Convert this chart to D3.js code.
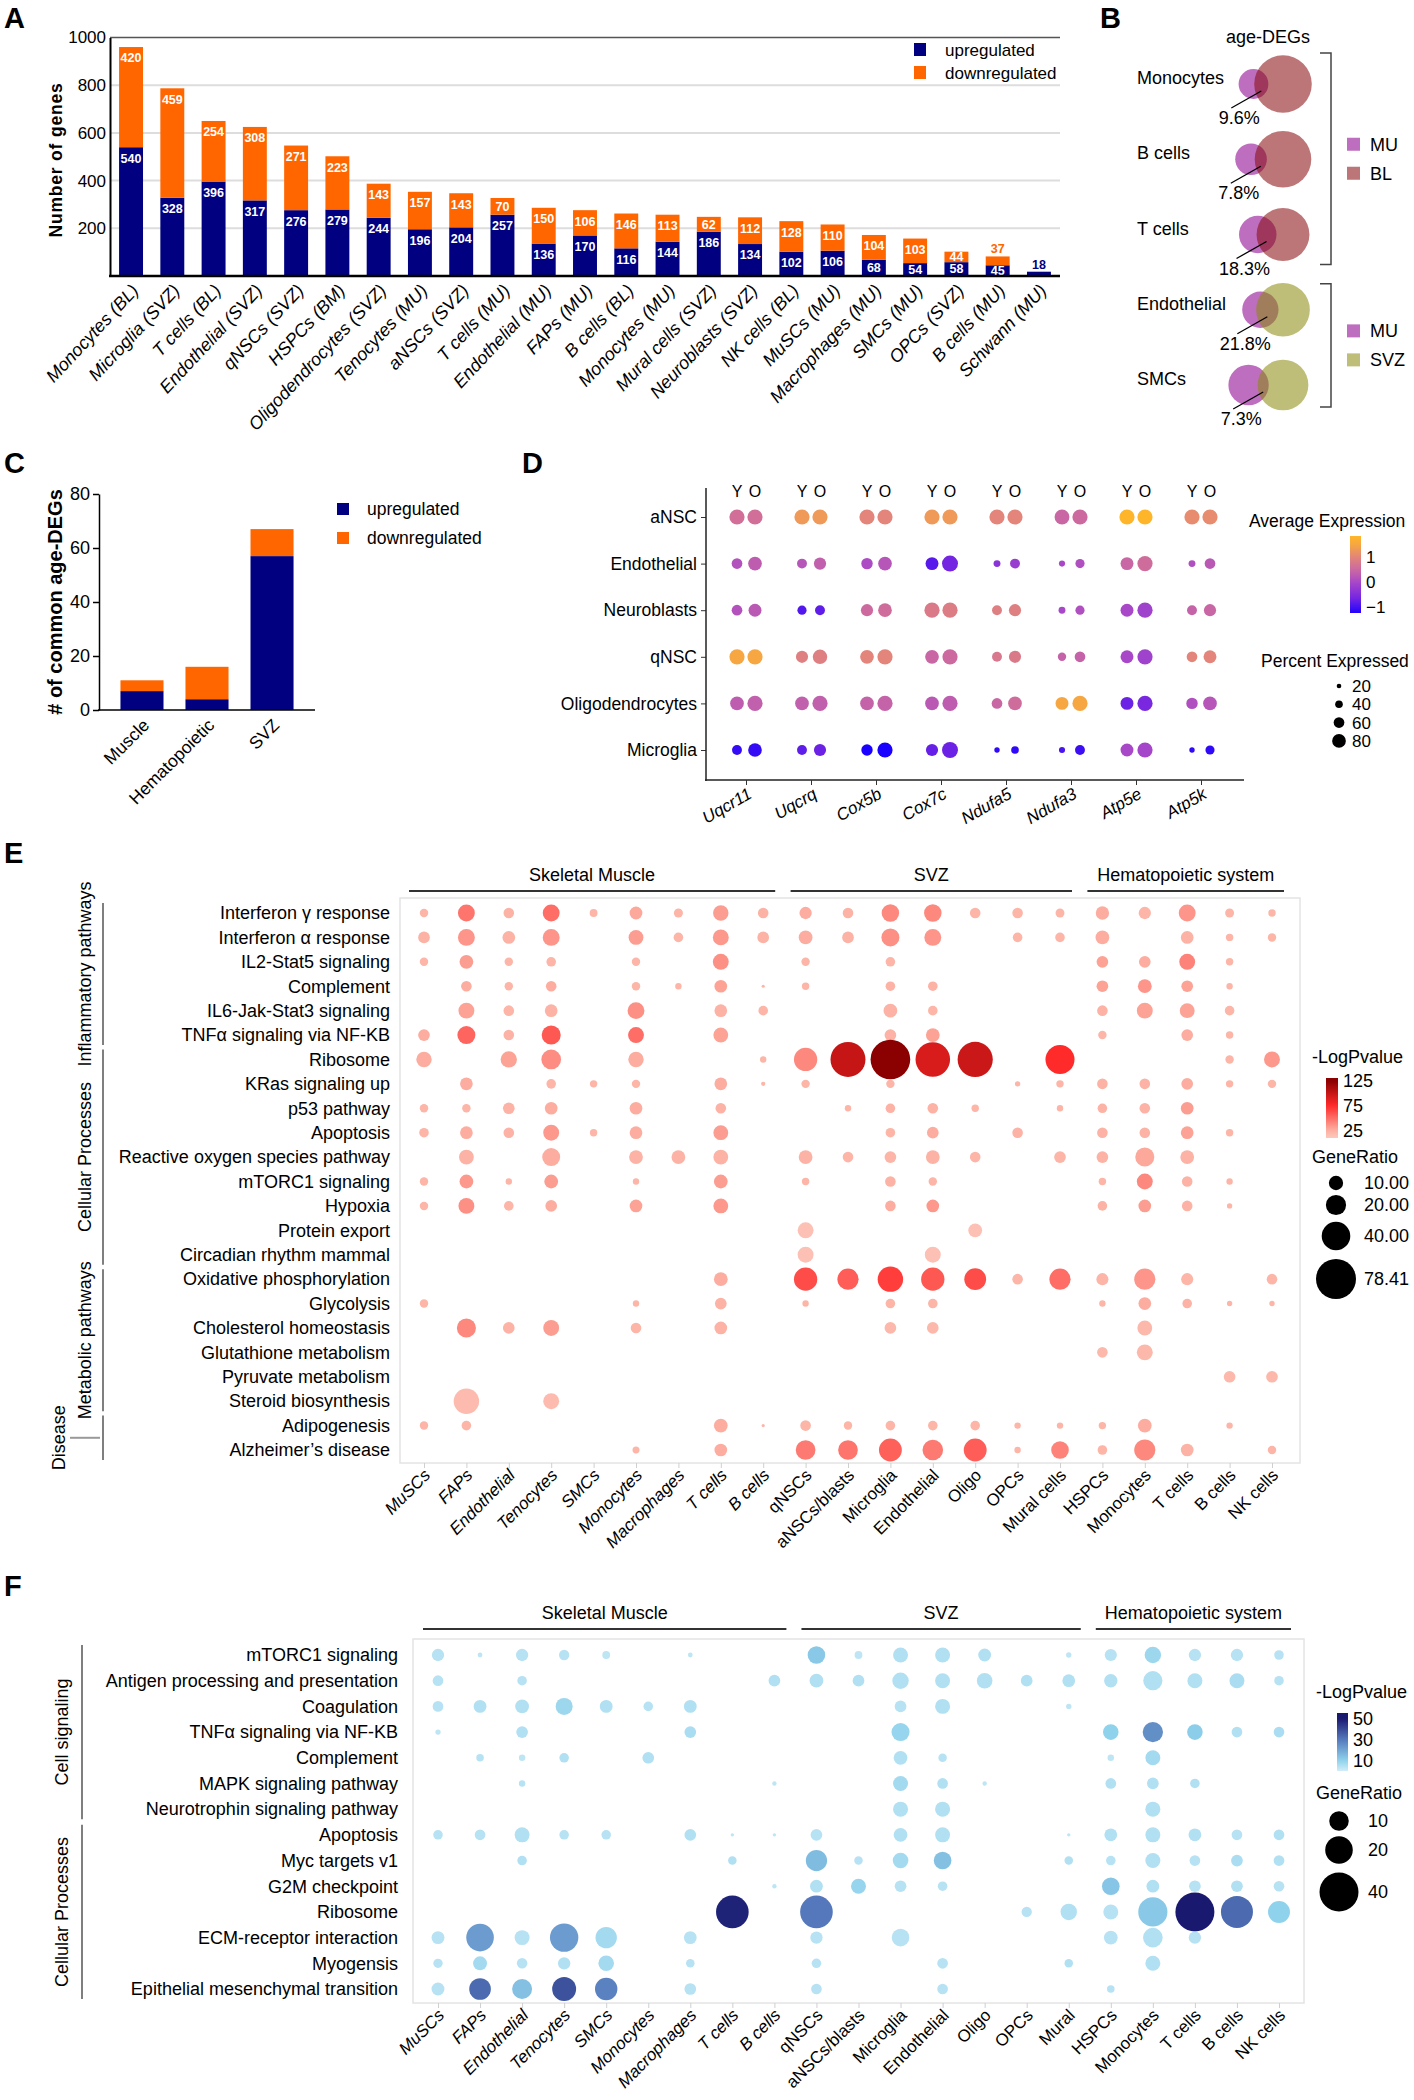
<!DOCTYPE html>
<html><head><meta charset="utf-8">
<script src="https://cdn.jsdelivr.net/npm/d3@7"></script>
<style>body{margin:0;background:#fff}svg{display:block}</style>
</head><body>
<svg id="fig" width="1414" height="2100"></svg>
<script>
// ================= DATA =================
// Panel A
const aCategories = ["Monocytes (BL)","Microglia (SVZ)","T cells (BL)","Endothelial (SVZ)","qNSCs (SVZ)","HSPCs (BM)","Oligodendrocytes (SVZ)","Tenocytes (MU)","aNSCs (SVZ)","T cells (MU)","Endothelial (MU)","FAPs (MU)","B cells (BL)","Monocytes (MU)","Mural cells (SVZ)","Neuroblasts (SVZ)","NK cells (BL)","MuSCs (MU)","Macrophages (MU)","SMCs (MU)","OPCs (SVZ)","B cells (MU)","Schwann (MU)"];
const aUp   = [540,328,396,317,276,279,244,196,204,257,136,170,116,144,186,134,102,106,68,54,58,45,18];
const aDown = [420,459,254,308,271,223,143,157,143,70,150,106,146,113,62,112,128,110,104,103,44,37,0];
const aTicks = [200,400,600,800,1000];
const aSeries = ["upregulated","downregulated"];

// Panel B
const bCells = ["Monocytes","B cells","T cells","Endothelial","SMCs"];
const bMU = [257,82,327,286,157];
const bOther = [960,262,650,625,248];
const bOtherTissue = ["BL","BL","BL","SVZ","SVZ"];
const bPercent = [9.6,7.8,18.3,21.8,7.3];

// Panel C
const cTissues = ["Muscle","Hematopoietic","SVZ"];
const cUp = [7,4,57];
const cDown = [4,12,10];
const cTicks = [0,20,40,60,80];

// Panel D
const dCells = ["aNSC","Endothelial","Neuroblasts","qNSC","Oligodendrocytes","Microglia"];
const dGenes = ["Uqcr11","Uqcrq","Cox5b","Cox7c","Ndufa5","Ndufa3","Atp5e","Atp5k"];
const dAges = ["Y","O"];
const dExpr = [
 [0.6,0.6, 1.3,1.3, 1.0,1.0, 1.3,1.3, 1.0,1.0, 0.45,0.5, 1.7,1.7, 1.1,1.1],
 [0.15,0.3, 0.2,0.35, 0.05,0.2, -0.85,-0.65, -0.4,-0.2, 0.0,0.1, 0.45,0.55, 0.1,0.25],
 [0.15,0.25, -0.9,-0.8, 0.5,0.55, 0.8,0.85, 0.9,0.9, 0.0,0.1, 0.0,-0.1, 0.4,0.45],
 [1.5,1.5, 0.9,0.9, 1.0,1.0, 0.45,0.5, 0.75,0.8, 0.4,0.4, 0.0,-0.1, 1.0,1.0],
 [0.3,0.35, 0.35,0.35, 0.4,0.4, 0.25,0.3, 0.45,0.55, 1.5,1.5, -0.7,-0.6, 0.1,0.2],
 [-1.1,-1.1, -0.8,-0.7, -1.3,-1.3, -0.75,-0.7, -1.15,-1.15, -0.95,-1.05, 0.0,-0.05, -1.15,-1.15]
];
const dPct = [
 [90,90, 90,90, 90,90, 90,90, 90,90, 88,90, 90,90, 90,90],
 [60,80, 55,70, 65,80, 75,95, 35,55, 30,50, 75,90, 35,60],
 [60,75, 50,55, 70,80, 90,90, 55,70, 35,50, 75,90, 55,70],
 [90,90, 70,85, 80,90, 80,90, 55,70, 45,60, 75,90, 60,75],
 [80,90, 80,90, 80,90, 80,90, 60,80, 75,90, 75,90, 65,80],
 [55,80, 55,70, 65,90, 70,95, 25,40, 30,55, 75,90, 25,50]
];
const dSizeTicks = [20,40,60,80];
const dColorTicks = [1,0,-1];

// Panels E & F shared columns
const eCols = ["MuSCs","FAPs","Endothelial","Tenocytes","SMCs","Monocytes","Macrophages","T cells","B cells","qNSCs","aNSCs/blasts","Microglia","Endothelial","Oligo","OPCs","Mural cells","HSPCs","Monocytes","T cells","B cells","NK cells"];
const fCols = ["MuSCs","FAPs","Endothelial","Tenocytes","SMCs","Monocytes","Macrophages","T cells","B cells","qNSCs","aNSCs/blasts","Microglia","Endothelial","Oligo","OPCs","Mural","HSPCs","Monocytes","T cells","B cells","NK cells"];
const groupNames = ["Skeletal Muscle","SVZ","Hematopoietic system"];
const groupStart = [0,9,16];
const groupEnd = [8,15,20];

// Panel E
const eRows = ["Interferon γ response","Interferon α response","IL2-Stat5 signaling","Complement","IL6-Jak-Stat3 signaling","TNFα signaling via NF-KB","Ribosome","KRas signaling up","p53 pathway","Apoptosis","Reactive oxygen species pathway","mTORC1 signaling","Hypoxia","Protein export","Circadian rhythm mammal","Oxidative phosphorylation","Glycolysis","Cholesterol homeostasis","Glutathione metabolism","Pyruvate metabolism","Steroid biosynthesis","Adipogenesis","Alzheimer’s disease"];
const eCatNames = ["Inflammatory pathways","Cellular Processes","Metabolic pathways","Disease"];
const eCatStart = [0,6,15,21];
const eCatEnd = [5,14,20,22];
const eRatio = [
 [3.5,14,5.5,14,3,8,4,11.7,5.5, 7.4,5.5,15,15,5.5,5.5,3.9, 8.7,7.4,14,3.9,2.7],
 [6.7,14,7.9,14,0,10.8,4.5,12.4,6.7, 9.3,6.7,15.9,14,0,4.5,4.5, 9.3,0,7.9,2.7,3.5],
 [3.5,9.3,3.5,4.5,0,3.5,0,12.4,0, 3.5,0,4.5,0,0,0,0, 6.7,6.7,12.4,2.7,0],
 [0,5.5,3.5,5.5,0,3.5,2,7.9,0.5, 2.7,0,4.5,4.5,0,0,0, 6.7,9.3,6.7,2,0],
 [0,12.4,5.5,7.9,0,14,0,7.9,4.5, 0,0,9.3,4.5,0,0,0, 5.5,12.4,10.8,4.5,0],
 [6.7,15.9,5.5,17.8,0,12.4,0,10.8,0, 0,0,6.7,9.3,0,0,0, 3.5,0,6.7,2.7,0],
 [11.7,0,13,19,0,11.7,0,0,2, 26.6,60,77,58.5,60.6,0,41.3, 0,0,0,3.5,12.4],
 [0,7.9,0,4.5,2.7,3.5,0,7.9,0.9, 3.5,0,3.5,0,0,1.4,2.7, 5.5,5.5,6.7,2.7,3.5],
 [3.5,3.5,6.7,7.9,0,7.9,0,5.5,0, 0,2,4.5,5.5,2.7,0,2, 4.5,5.5,7.9,0,0],
 [4.5,7.9,5.5,12.4,2.7,7.9,0,10.8,0, 0,0,4.5,6.7,0,5.5,0, 5.5,5.5,7.9,2.7,0],
 [0,10.8,0,15.9,0,9.3,9.3,10.8,0, 9.3,5.5,6.7,9.3,5.5,0,6.7, 6.7,17.8,9.3,0,0],
 [3.5,9.3,2,9.3,0,2,0,9.3,0, 2.7,0,5.5,3.5,0,0,0, 2.7,12.4,5.5,2,0],
 [3.5,12.4,4.5,6.7,0,7.9,0,10.8,0, 0,0,5.5,7.9,0,0,0, 4.5,7.9,5.5,1.4,0],
 [0,0,0,0,0,0,0,0,0, 12.4,0,0,0,9.3,0,0, 0,0,0,0,0],
 [0,0,0,0,0,0,0,0,0, 12.4,0,0,12.4,0,0,0, 0,0,0,0,0],
 [0,0,0,0,0,0,0,9.3,0, 26.6,22,31.7,26.6,23.3,5.5,22, 7.1,22,7.1,0,5.5],
 [3.5,0,0,0,0,2,0,6.7,0, 2,0,4.5,4.5,0,0,0, 2,7.9,4.5,1.4,1.4],
 [0,17.8,6.7,12.4,0,5.5,0,7.9,0, 0,0,6.7,6.7,0,0,0, 0,10.8,0,0,0],
 [0,0,0,0,0,0,0,0,0, 0,0,0,0,0,0,0, 5.5,12.4,0,0,0],
 [0,0,0,0,0,0,0,0,0, 0,0,0,0,0,0,0, 0,0,0,6.7,6.7],
 [0,31.7,0,12.4,0,0,0,0,0, 0,0,0,0,0,0,0, 0,0,0,0,0],
 [3.5,4.5,0,0,0,0,0,9.3,0.5, 5.5,3.5,4.5,4.5,4.5,2,2, 2.7,9.3,0,2,0],
 [0,0,0,0,0,2.4,0,7.9,0, 19,19,25.7,20.7,25.7,2,15.2, 4.5,22,7.9,0,3.5]
];
const ePval = [
 [22,47,24,50,22,28,22,32,24, 26,24,40,40,22,22,22, 26,22,35,22,22],
 [24,35,24,35,0,32,22,34,24, 26,24,37,35,0,22,22, 26,0,24,22,22],
 [22,32,22,22,0,22,0,37,0, 22,0,22,0,0,0,0, 30,26,42,22,0],
 [0,26,22,26,0,22,22,30,22, 22,0,24,24,0,0,0, 30,35,30,22,0],
 [0,30,22,24,0,37,0,24,22, 0,0,24,22,0,0,0, 24,30,30,22,0],
 [26,53,24,58,0,50,0,30,0, 0,0,24,30,0,0,0, 22,0,26,22,0],
 [26,0,30,38,0,26,0,0,22, 40,100,130,92,98,0,75, 0,0,0,22,34],
 [0,26,0,22,22,22,0,26,22, 22,0,22,0,0,22,22, 24,24,26,22,22],
 [22,22,24,26,0,26,0,24,0, 0,22,24,24,22,0,22, 24,24,32,0,0],
 [22,26,24,34,22,26,0,32,0, 0,0,22,26,0,24,0, 24,24,30,22,0],
 [0,24,0,26,0,24,24,24,0, 24,22,22,24,22,0,22, 24,28,24,0,0],
 [22,34,22,32,0,22,0,32,0, 22,0,24,22,0,0,0, 22,40,24,22,0],
 [22,37,22,26,0,30,0,34,0, 0,0,26,34,0,0,0, 24,32,24,22,0],
 [0,0,0,0,0,0,0,0,0, 15,0,0,0,15,0,0, 0,0,0,0,0],
 [0,0,0,0,0,0,0,0,0, 15,0,0,15,0,0,0, 0,0,0,0,0],
 [0,0,0,0,0,0,0,26,0, 62,56,68,58,62,22,50, 22,35,22,0,22],
 [22,0,0,0,0,22,0,24,0, 22,0,22,22,0,0,0, 22,26,24,22,22],
 [0,40,24,32,0,22,0,24,0, 0,0,20,20,0,0,0, 0,20,0,0,0],
 [0,0,0,0,0,0,0,0,0, 0,0,0,0,0,0,0, 20,20,0,0,0],
 [0,0,0,0,0,0,0,0,0, 0,0,0,0,0,0,0, 0,0,0,20,20],
 [0,18,0,18,0,0,0,0,0, 0,0,0,0,0,0,0, 0,0,0,0,0],
 [22,22,0,0,0,0,0,26,22, 22,22,22,22,22,22,22, 22,26,0,22,0],
 [0,0,0,0,0,22,0,26,0, 45,47,55,45,56,22,42, 22,40,24,0,22]
];
const ePvalTicks = [125,75,25];
const eRatioTicks = [10,20,40,78.41];

// Panel F
const fRows = ["mTORC1 signaling","Antigen processing and presentation","Coagulation","TNFα signaling via NF-KB","Complement","MAPK signaling pathway","Neurotrophin signaling pathway","Apoptosis","Myc targets v1","G2M checkpoint","Ribosome","ECM-receptor interaction","Myogensis","Epithelial mesenchymal transition"];
const fCatNames = ["Cell signaling","Cellular Processes"];
const fCatStart = [0,7];
const fCatEnd = [6,13];
const fRatio = [
 [4,0.6,4,2.8,1.6,0,0.6,0,0, 8.2,1.6,5.9,5.9,4.3,0,0.75, 3.9,7.1,4,4,2.4],
 [3,0,2.4,0,0,0,0,0,3.6, 5,3.6,7.1,5.9,6.4,3.6,4.3, 4.7,9.7,5.9,5.9,2.4],
 [3,4.3,5,7.6,4.3,2.4,4.3,0,0, 0,0,3.6,5.9,0,0,0.75, 0,0,0,0,0],
 [0.75,0,3.6,0,0,0,3.6,0,0, 0,0,8.6,0,0,0,0, 6.4,10.8,6.4,3,3],
 [0,1.5,1.1,2.4,0,3.6,0,0,0, 0,0,5,1.9,0,0,0, 1.1,5.9,0,0,0],
 [0,0,1.1,0,0,0,0,0,0.5, 0,0,5.9,3,0.5,0,0, 3,3.6,2.4,0,0],
 [0,0,0,0,0,0,0,0,0, 0,0,5.9,5.9,0,0,0, 0,5.9,0,0,0],
 [2.4,3,5.9,2.4,2.4,0,3.6,0.3,0.3, 3.6,0,5,5.9,0,0,0.3, 4.3,5.9,4.3,3,3],
 [0,0,2.4,0,0,0,0,1.9,0, 11.9,1.9,6.4,8.2,0,0,1.9, 2.4,5.9,3,3.6,3],
 [0,0,0,0,0,0,0,0,0.5, 4.3,5.9,3.6,2.4,0,0,0, 8.2,4.3,3.6,3.6,3],
 [0,0,0,0,0,0,0,28,0, 28,0,0,0,0,2.8,7.1, 5.9,22.4,40,26.9,12.7],
 [4.4,20,5.9,21.2,12,0,4.3,0,0, 4,0,8.2,0,0,0,0, 5,10.1,4,0,0],
 [2.3,5.1,2.9,4,6.4,0,1.9,0,0, 2.4,0,0,3,0,0,1.9, 0,5.9,0,0,0],
 [4.4,12.3,10.5,15.1,13.2,0,3.6,0,0, 3,0,0,3,0,0,0, 1.5,0,0,0,0]
];
const fPval = [
 [4,3,4,4,3,0,3,0,0, 12,3,5,5,5,0,3, 4,8,4,4,4],
 [4,0,4,0,0,0,0,0,5, 5,5,5,5,5,5,5, 5,5,5,6,4],
 [4,5,5,8,5,4,5,0,0, 0,0,4,5,0,0,3, 0,0,0,0,0],
 [3,0,5,0,0,0,6,0,0, 0,0,9,0,0,0,0, 10,25,11,5,6],
 [0,4,3,5,0,5,0,0,0, 0,0,5,4,0,0,0, 3,7,0,0,0],
 [0,0,4,0,0,0,0,0,3, 0,0,7,5,3,0,0, 5,5,5,0,0],
 [0,0,0,0,0,0,0,0,0, 0,0,5,5,0,0,0, 0,5,0,0,0],
 [4,4,5,4,4,0,5,3,3, 4,0,5,5,0,0,3, 5,5,5,4,5],
 [0,0,5,0,0,0,0,5,0, 15,4,7,14,0,0,5, 4,5,4,6,5],
 [0,0,0,0,0,0,0,0,3, 5,9,4,4,0,0,0, 13,5,4,5,4],
 [0,0,0,0,0,0,0,48,0, 30,0,0,0,0,4,5, 4,12,55,33,10],
 [4,22,4,22,7,0,4,0,0, 4,0,4,0,0,0,0, 4,5,4,0,0],
 [4,7,4,5,7,0,4,0,0, 4,0,0,4,0,0,5, 0,5,0,0,0],
 [4,33,14,38,28,0,4,0,0, 4,0,0,4,0,0,0, 4,0,0,0,0]
];
const fPvalTicks = [50,30,10];
const fRatioTicks = [10,20,40];

// ================= DRAWING =================
const FONT = "'Liberation Sans', Arial, Helvetica, sans-serif";
const NAVY = "#000080", ORANGE = "#ff6600";
const svg = d3.select("#fig").attr("font-family", FONT);
svg.append("rect").attr("width",1414).attr("height",2100).attr("fill","#fff");
const defs = svg.append("defs");

function txt(g, x, y, s, size, o = {}) {
  const t = g.append("text").attr("x", x).attr("y", y).attr("font-size", size).attr("fill", o.fill || "#000").text(s);
  if (o.anchor) t.attr("text-anchor", o.anchor);
  if (o.weight) t.attr("font-weight", o.weight);
  if (o.dy) t.attr("dy", o.dy);
  if (o.style) t.attr("font-style", o.style);
  if (o.transform) t.attr("transform", o.transform);
  return t;
}

// Panel letters
[["A",4,28],["B",1100,28],["C",4,473],["D",522,473],["E",4,863],["F",4,1596]].forEach(([l,x,y]) =>
  txt(svg, x, y, l, 29, {weight: "bold"}));

// ---------- Panel A ----------
(function(){
  const g = svg.append("g");
  const x = d3.scaleBand().domain(d3.range(aCategories.length)).range([110,1060]).paddingInner(0.42).paddingOuter(0.22);
  const y = d3.scaleLinear().domain([0,1000]).range([276,37.5]);
  g.selectAll("line.grid").data(aTicks).join("line")
    .attr("x1",110).attr("x2",1060).attr("y1",d=>y(d)).attr("y2",d=>y(d))
    .attr("stroke",d=>d===1000?"#555":"#dddddd").attr("stroke-width",d=>d===1000?1.5:2);
  const data = aCategories.map((c,i)=>({i,c,up:aUp[i],down:aDown[i]}));
  g.selectAll("rect.up").data(data).join("rect")
    .attr("x",d=>x(d.i)).attr("width",x.bandwidth())
    .attr("y",d=>y(d.up)).attr("height",d=>y(0)-y(d.up)).attr("fill",NAVY);
  g.selectAll("rect.dn").data(data.filter(d=>d.down>0)).join("rect")
    .attr("x",d=>x(d.i)).attr("width",x.bandwidth())
    .attr("y",d=>y(d.up+d.down)).attr("height",d=>y(d.up)-y(d.up+d.down)).attr("fill",ORANGE);
  function lab(v, lo, hi, col, cx){
    const top = y(hi), h = y(lo) - y(hi);
    const inside = h >= 9.5;
    txt(g, cx, inside ? top + Math.min(11, h/2) : top - 7.5, v, 12.5,
      {anchor:"middle", dy:"0.35em", weight:"bold", fill: inside ? "#fff" : col});
  }
  data.forEach(d=>{
    const cx = x(d.i) + x.bandwidth()/2;
    lab(d.up, 0, d.up, NAVY, cx);
    if (d.down>0) lab(d.down, d.up, d.up+d.down, ORANGE, cx);
  });
  const ax = d3.axisLeft(y).tickValues(aTicks).tickFormat(d3.format("d")).tickSize(0).tickSizeOuter(0).tickPadding(4);
  g.append("g").attr("transform","translate(110,0)").call(ax)
    .attr("font-family",FONT).attr("font-size",17)
    .call(s=>{s.select(".domain").attr("stroke","#000").attr("stroke-width",2); s.selectAll("text").attr("fill","#000");});
  g.append("line").attr("x1",109).attr("x2",1060).attr("y1",y(0)).attr("y2",y(0)).attr("stroke","#000").attr("stroke-width",2.5);
  data.forEach(d=>{
    const cx = x(d.i) + x.bandwidth()/2;
    txt(g, 0, 0, d.c, 18, {anchor:"end", dy:"0.35em", style:"italic", transform:`translate(${cx+4},${287}) rotate(-47)`});
  });
  txt(g, 0, 0, "Number of genes", 17.5, {anchor:"middle", weight:"bold", transform:"translate(62,160) rotate(-90)"}).attr("letter-spacing",0.8);
  aSeries.forEach((s,i)=>{
    g.append("rect").attr("x",914).attr("y",43+i*23).attr("width",12).attr("height",13).attr("fill",i?ORANGE:NAVY);
    txt(g, 945, 56+i*23, s, 17);
  });
})();

// ---------- Panel B ----------
(function(){
  const g = svg.append("g");
  const MU_COL = "#be6ebe";
  const other = {BL:"#870a0e", SVZ:"#8b8b0e"};
  const yRow = d3.scalePoint().domain(bCells).range([84,385]);
  const bigX = 1283, TOTAL = 3300;
  function lens(r1,r2,d){
    if (d >= r1+r2) return 0;
    if (d <= Math.abs(r2-r1)) return Math.PI*Math.min(r1,r2)**2;
    const a = r1*r1*Math.acos((d*d+r1*r1-r2*r2)/(2*d*r1));
    const b = r2*r2*Math.acos((d*d+r2*r2-r1*r1)/(2*d*r2));
    const c = 0.5*Math.sqrt((-d+r1+r2)*(d+r1-r2)*(d-r1+r2)*(d+r1+r2));
    return a+b-c;
  }
  txt(g, 1268, 43, "age-DEGs", 18, {anchor:"middle"});
  bCells.forEach((cell,i)=>{
    const cy = yRow(cell);
    const n1 = bMU[i], n2 = bOther[i];
    const r1 = Math.sqrt(TOTAL*n1/(n1+n2)/Math.PI), r2 = Math.sqrt(TOTAL*n2/(n1+n2)/Math.PI);
    const A = Math.PI*(r1*r1+r2*r2), p = bPercent[i]/100;
    let lo = Math.abs(r2-r1), hi = r1+r2;
    for (let k=0;k<60;k++){ const m=(lo+hi)/2; const O=lens(r1,r2,m); if (O/(A-O) > p) lo=m; else hi=m; }
    const d = (lo+hi)/2, sx = bigX - d;
    g.append("circle").attr("cx",sx).attr("cy",cy).attr("r",r1).attr("fill",MU_COL);
    g.append("circle").attr("cx",bigX).attr("cy",cy).attr("r",r2).attr("fill",other[bOtherTissue[i]]).attr("fill-opacity",0.56);
    const ox = ((bigX - r2) + (sx + r1))/2;
    g.append("line").attr("x1",ox-30).attr("y1",cy+24).attr("x2",ox).attr("y2",cy+7).attr("stroke","#000").attr("stroke-width",1.3);
    txt(g, ox-22, cy+40, bPercent[i]+"%", 18, {anchor:"middle"});
    txt(g, 1137, cy, cell, 18);
  });
  const groups = [[0,2,"BL"],[3,4,"SVZ"]];
  groups.forEach(([s,e,t],gi)=>{
    const y0 = yRow(bCells[s]) - (gi?26:31), y1 = yRow(bCells[e]) + (gi?22:30);
    g.append("path").attr("d",`M1320,${y0}H1331V${y1}H1320`).attr("fill","none").attr("stroke","#444").attr("stroke-width",1.5);
    const mid = (y0+y1)/2;
    [["MU",MU_COL,1],[t,other[t],0.56]].forEach(([lab,col,op],k)=>{
      g.append("rect").attr("x",1347).attr("y",mid-21+k*29).attr("width",13).attr("height",13).attr("fill",col).attr("fill-opacity",op);
      txt(g, 1370, mid-8+k*29, lab, 18);
    });
  });
})();

// ---------- Panel C ----------
(function(){
  const g = svg.append("g");
  const x = d3.scaleBand().domain(cTissues).range([99,315]).paddingInner(0.338).paddingOuter(0.33);
  const y = d3.scaleLinear().domain([0,80]).range([710,494]);
  cTissues.forEach((t,i)=>{
    g.append("rect").attr("x",x(t)).attr("width",x.bandwidth()).attr("y",y(cUp[i])).attr("height",y(0)-y(cUp[i])).attr("fill",NAVY);
    g.append("rect").attr("x",x(t)).attr("width",x.bandwidth()).attr("y",y(cUp[i]+cDown[i])).attr("height",y(cUp[i])-y(cUp[i]+cDown[i])).attr("fill",ORANGE);
  });
  g.append("g").attr("transform","translate(99,0)").call(d3.axisLeft(y).tickValues(cTicks).tickSize(6).tickSizeOuter(0).tickPadding(3))
    .attr("font-family",FONT).attr("font-size",18)
    .call(s=>{s.select(".domain").attr("stroke","#000").attr("stroke-width",1.5); s.selectAll("line").attr("stroke","#000").attr("stroke-width",1.5); s.selectAll("text").attr("fill","#000");});
  g.append("line").attr("x1",98).attr("x2",315).attr("y1",710).attr("y2",710).attr("stroke","#000").attr("stroke-width",1.5);
  cTissues.forEach(t=>{
    txt(g, 0, 0, t, 17.5, {anchor:"end", dy:"0.35em", transform:`translate(${x(t)+x.bandwidth()/2+4},${722}) rotate(-45)`});
  });
  txt(g, 0, 0, "# of common age-DEGs", 20, {anchor:"middle", weight:"bold", transform:"translate(62,602) rotate(-90)"});
  aSeries.forEach((s,i)=>{
    g.append("rect").attr("x",337).attr("y",503+i*29).attr("width",12).attr("height",12).attr("fill",i?ORANGE:NAVY);
    txt(g, 367, 515+i*29, s, 17.5);
  });
})();

// ---------- Panel D ----------
(function(){
  const g = svg.append("g");
  const AX = 706;
  const gx = d3.scalePoint().domain(dGenes).range([746,1201]);
  const y = d3.scalePoint().domain(dCells).range([517,750]);
  const color = d3.scaleLinear().domain([-1.3,-0.6,0,0.5,1.0,1.7]).range(["#1a00ff","#7a28e0","#a848c8","#cc6aa0","#e3857a","#ffb52a"]).clamp(true);
  const size = d3.scaleLinear().domain([0,90]).range([0.8,7.6]);
  const off = a => a===0 ? -9 : 9;
  const pts = [];
  dCells.forEach((c,ri)=>dGenes.forEach((gn,gi)=>dAges.forEach((a,ai)=>{
    pts.push({c, gn, ai, e:dExpr[ri][gi*2+ai], p:dPct[ri][gi*2+ai]});
  })));
  g.selectAll("circle").data(pts).join("circle")
    .attr("cx",d=>gx(d.gn)+off(d.ai)).attr("cy",d=>y(d.c)).attr("r",d=>size(d.p)).attr("fill",d=>color(d.e));
  g.append("g").attr("transform",`translate(${AX},0)`).call(d3.axisLeft(y).tickSize(5).tickSizeOuter(0).tickPadding(4))
    .attr("font-family",FONT).attr("font-size",17.5)
    .call(s=>{s.select(".domain").remove(); s.selectAll("line").attr("stroke","#333"); s.selectAll("text").attr("fill","#000");});
  g.append("line").attr("x1",AX).attr("x2",AX).attr("y1",488).attr("y2",781).attr("stroke","#222").attr("stroke-width",1.5);
  g.append("line").attr("x1",AX-1).attr("x2",1244).attr("y1",780).attr("y2",780).attr("stroke","#222").attr("stroke-width",1.5);
  g.append("g").attr("transform","translate(0,780)").call(d3.axisBottom(gx).tickSize(5).tickSizeOuter(0).tickFormat(""))
    .call(s=>{s.select(".domain").remove(); s.selectAll("line").attr("stroke","#333");});
  dGenes.forEach(gn=>{
    txt(g, 0, 0, gn, 17, {anchor:"end", dy:"0.35em", style:"italic", transform:`translate(${gx(gn)+4},${792}) rotate(-30)`});
    dAges.forEach((a,ai)=>txt(g, gx(gn)+off(ai), 497, a, 16, {anchor:"middle"}));
  });
  txt(g, 1249, 527, "Average Expression", 17.5);
  const cb = d3.scaleLinear().domain([-1.24,1.84]).range([613,536]);
  const grad = defs.append("linearGradient").attr("id","gD").attr("x1",0).attr("y1",1).attr("x2",0).attr("y2",0);
  d3.range(0,1.0001,0.1).forEach(t=>grad.append("stop").attr("offset",t).attr("stop-color",color(-1.24+t*3.08)));
  g.append("rect").attr("x",1350).attr("y",536).attr("width",11).attr("height",77).attr("fill","url(#gD)");
  dColorTicks.forEach(v=>txt(g, 1366, cb(v), v<0?"−"+Math.abs(v):String(v), 17, {dy:"0.35em"}));
  txt(g, 1261, 667, "Percent Expressed", 17.5);
  dSizeTicks.forEach((v,i)=>{
    const cy = 686 + i*18.3;
    g.append("circle").attr("cx",1339).attr("cy",cy).attr("r",size(v)).attr("fill","#000");
    txt(g, 1352, cy, v, 17, {dy:"0.35em"});
  });
})();

// ---------- Dot panels E & F ----------
function dotPanel(o){
  const g = svg.append("g");
  const x = d3.scalePoint().domain(d3.range(o.cols.length)).range(o.xr);
  const y = d3.scalePoint().domain(d3.range(o.rows.length)).range(o.yr);
  const [bx0,by0,bx1,by1] = o.box;
  g.append("rect").attr("x",bx0).attr("y",by0).attr("width",bx1-bx0).attr("height",by1-by0)
    .attr("fill","none").attr("stroke","#e4e4e4").attr("stroke-width",1.5);
  g.append("g").attr("transform",`translate(0,${by1})`).call(d3.axisBottom(x).tickSize(5).tickSizeOuter(0).tickFormat(""))
    .call(s=>{s.select(".domain").remove(); s.selectAll("line").attr("stroke","#cfcfcf");});
  o.cols.forEach((c,i)=>txt(g, 0, 0, c, 17, {anchor:"end", dy:"0.35em", style: i<9 ? "italic" : "normal",
    transform:`translate(${x(i)+3},${by1+9}) rotate(-45)`}));
  o.rows.forEach((r,i)=>txt(g, o.labelX, y(i), r, 18, {anchor:"end", dy:"0.35em"}));
  const pts = [];
  o.ratio.forEach((row,ri)=>row.forEach((v,ci)=>{ if (v>0) pts.push({ri,ci,v,p:o.pval[ri][ci]}); }));
  g.selectAll("circle.dot").data(pts).join("circle")
    .attr("cx",d=>x(d.ci)).attr("cy",d=>y(d.ri)).attr("r",d=>o.size(d.v)).attr("fill",d=>o.color(d.p));
  groupNames.forEach((n,i)=>{
    const x0 = x(groupStart[i]) - 15, x1 = x(groupEnd[i]) + 12;
    g.append("line").attr("x1",x0).attr("x2",x1).attr("y1",o.headY+10).attr("y2",o.headY+10).attr("stroke","#333").attr("stroke-width",2);
    txt(g, (x0+x1)/2, o.headY, n, 18, {anchor:"middle"});
  });
  o.catNames.forEach((n,i)=>{
    const y0 = y(o.catStart[i]) - 10, y1 = y(o.catEnd[i]) + 10;
    g.append("line").attr("x1",o.catLineX).attr("x2",o.catLineX).attr("y1",y0).attr("y2",y1).attr("stroke","#555").attr("stroke-width",1.5);
    let tx = o.catTextX;
    if (n === "Disease") {
      tx = o.catTextX - 26;
      g.append("line").attr("x1",tx+11).attr("x2",o.catLineX-3).attr("y1",(y0+y1)/2).attr("y2",(y0+y1)/2).attr("stroke","#999").attr("stroke-width",2);
    }
    txt(g, 0, 0, n, 18, {anchor:"middle", dy:"0.35em", transform:`translate(${tx},${(y0+y1)/2}) rotate(-90)`});
  });
  const L = o.legend;
  txt(g, L.x, L.titleY, "-LogPvalue", 18);
  const cb = d3.scaleLinear().domain(L.barDomain).range([L.barY1, L.barY0]);
  const grad = defs.append("linearGradient").attr("id",o.id).attr("x1",0).attr("y1",1).attr("x2",0).attr("y2",0);
  d3.range(0,1.0001,0.05).forEach(t=>grad.append("stop").attr("offset",t).attr("stop-color",o.color(L.barDomain[0]+t*(L.barDomain[1]-L.barDomain[0]))));
  g.append("rect").attr("x",L.barX).attr("y",L.barY0).attr("width",L.barW).attr("height",L.barY1-L.barY0).attr("fill",`url(#${o.id})`);
  L.pTicks.forEach(v=>txt(g, L.barX+L.barW+5, cb(v), v, 18, {dy:"0.35em"}));
  txt(g, L.x, L.sizeTitleY, "GeneRatio", 18);
  L.rTicks.forEach((v,i)=>{
    g.append("circle").attr("cx",L.dotX).attr("cy",L.dotY[i]).attr("r",o.size(v)).attr("fill","#000");
    txt(g, L.dotLabX, L.dotY[i], L.fmt(v), 18, {dy:"0.35em"});
  });
}

dotPanel({
  id:"gE", rows:eRows, cols:eCols, ratio:eRatio, pval:ePval,
  xr:[424,1272], yr:[913,1450], box:[400,898,1300,1463], labelX:390, headY:881,
  catNames:eCatNames, catStart:eCatStart, catEnd:eCatEnd, catLineX:103, catTextX:85,
  size: d3.scaleSqrt().domain([0,78.41]).range([0,20]),
  color: d3.scaleLinear().domain([0,25,75,125]).range(["#fed8cf","#fcb0a2","#ff2a2a","#8b0000"]).clamp(true),
  legend:{x:1312, titleY:1063, barX:1326, barW:12, barY0:1078, barY1:1138, barDomain:[10,130], pTicks:ePvalTicks,
    sizeTitleY:1163, dotX:1336, dotY:[1183,1205,1236,1279], dotLabX:1364, rTicks:eRatioTicks, fmt:v=>v.toFixed(2)}
});

dotPanel({
  id:"gF", rows:fRows, cols:fCols, ratio:fRatio, pval:fPval,
  xr:[438,1279], yr:[1655,1989], box:[413,1639,1304,2003], labelX:398, headY:1619,
  catNames:fCatNames, catStart:fCatStart, catEnd:fCatEnd, catLineX:82, catTextX:62,
  size: d3.scaleSqrt().domain([0,40]).range([0,19.5]),
  color: d3.scaleLinear().domain([0,10,30,50]).range(["#d2edf8","#8fd2ec","#5478bb","#191970"]).clamp(true),
  legend:{x:1316, titleY:1698, barX:1337, barW:11, barY0:1713, barY1:1771, barDomain:[0,55], pTicks:fPvalTicks,
    sizeTitleY:1799, dotX:1339, dotY:[1821,1850,1892], dotLabX:1368, rTicks:fRatioTicks, fmt:v=>String(v)}
});
</script>
</body></html>
